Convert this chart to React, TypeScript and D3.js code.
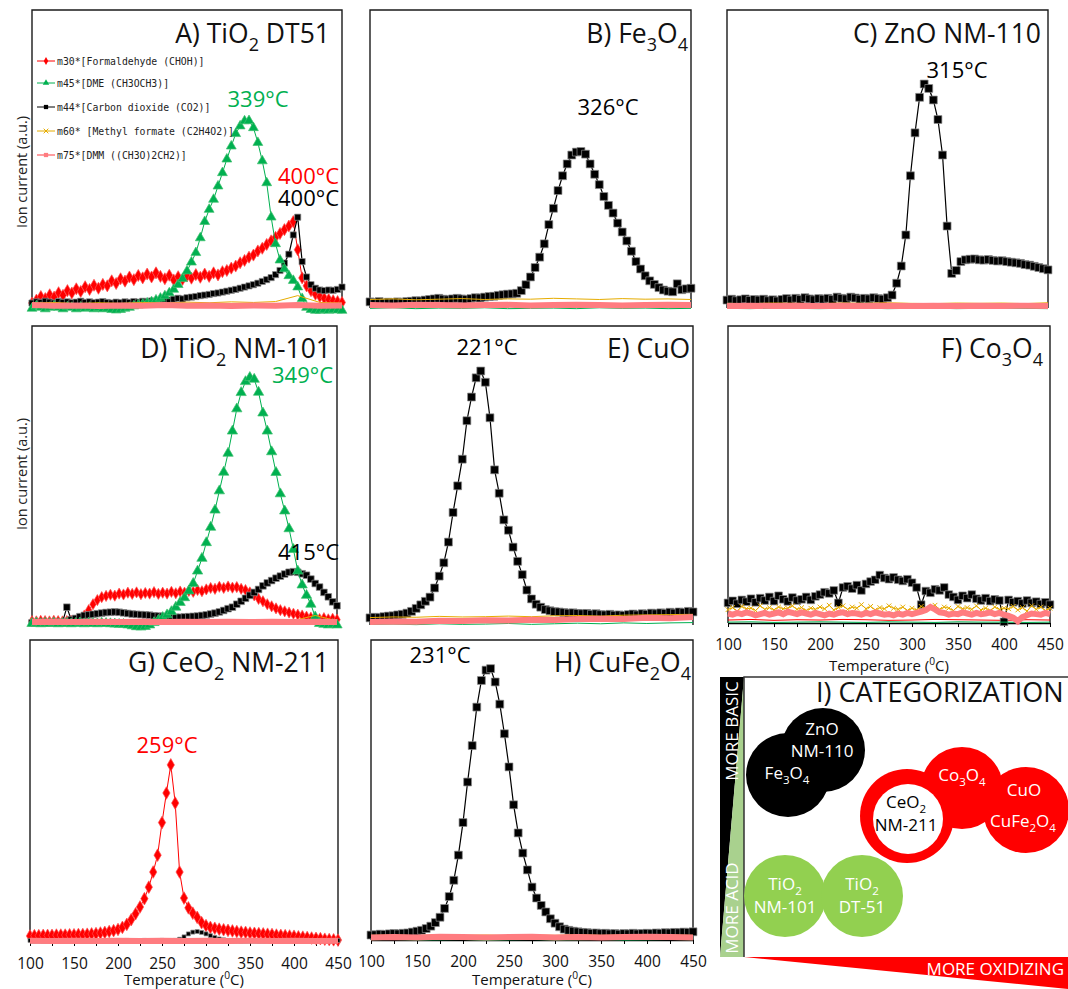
import * as React from 'react';
import * as d3 from 'd3';

/** ******** Data ********* */
// temperature grid of the MS traces (°C)
const TEMPS = d3.range(100, 451, 5);
const TEMPS_COARSE = d3.range(100, 451, 25);
const X_TICKS = d3.range(100, 451, 25);

// A) TiO2 DT51
const A_M30 = [
    1.0, 2.0, 3.2, 2.5, 3.8, 3.0, 4.5, 3.6, 5.2, 4.4,
    5.8, 4.9, 6.5, 5.6, 7.0, 6.0, 7.3, 6.8, 8.5, 7.6,
    9.2, 8.4, 9.8, 8.9, 10.3, 9.5, 10.8, 9.8, 11.2, 10.0,
    9.2, 10.4, 8.8, 9.9, 9.0, 10.2, 9.4, 10.6, 9.7, 10.8,
    10.0, 11.2, 10.5, 11.6, 12.0, 12.8, 13.5, 14.6, 15.4, 16.5,
    17.2, 18.6, 19.5, 20.8, 22.0, 23.2, 24.5, 25.8, 27.0, 28.5,
    19.0, 9.5, 6.8, 5.2, 4.0, 3.2, 2.6, 2.2, 1.8, 1.5,
    1.2
];
const A_M45 = [
    -0.8, 0, -0.5, -1.0, -0.5, 0, -0.5, -1.0, -0.3, -0.5,
    -1.0, -0.4, -0.8, -0.5, -1.0, -0.6, -1.0, -0.8, -1.2, -1.4,
    -1.2, -0.8, -0.5, 0, 0.3, 0.6, 1.0, 1.4, 2.0, 2.6,
    3.4, 4.4, 5.6, 7.2, 9.2, 11.8, 14.8, 18.0, 23.0, 28.5,
    32.6, 36.0, 40.5, 45.0, 49.6, 54.0, 58.2, 60.8, 62.5, 62.6,
    60.2, 55.2, 49.0, 41.6, 30.0, 21.0, 15.5, 12.5, 10.2, 8.6,
    6.4, 2.5, -0.5, -1.2, -1.5, -1.5, -1.2, -1.5, -1.2, -1.4,
    -1.5
];
const A_M44 = [
    1.0, 1.4, 1.2, 1.6, 1.3, 1.0, 1.5, 1.2, 1.4, 1.1,
    1.3, 1.6, 1.2, 1.4, 1.1, 1.3, 1.5, 1.2, 1.0, 1.3,
    1.1, 1.4, 1.2, 1.5, 1.3, 1.6, 1.4, 1.7, 1.5, 1.9,
    1.7, 2.0, 2.3, 2.6, 2.4, 2.8, 3.0, 3.2, 3.5, 3.7,
    3.9, 4.2, 4.4, 4.7, 5.0, 5.3, 5.6, 6.0, 6.4, 6.8,
    7.2, 7.7, 8.3, 8.9, 9.6, 10.6, 12.0, 14.5, 17.5, 24.0,
    30.0, 15.0, 9.8, 7.2, 6.0, 5.4, 5.2, 5.4, 5.3, 5.6,
    6.4
];
const A_M60 = [1.0, 1.2, 0.8, 1.1, 0.9, 1.2, 1.0, 1.3, 1.1, 1.4, 1.2, 1.5, 3.5, 1.2, 1.0];
const A_M75 = [0.3, 0.1, 0.2, 0.0, 0.2, 0.1, 0.3, 0.1, 0.2, 0.0, 0.2, 0.1, 0.3, 0.1, 0.2];

// B) Fe3O4
const B_M44 = [
    1.4, 1.2, 1.5, 1.0, 1.3, 1.1, 1.4, 1.2, 1.5, 1.6,
    1.8, 1.7, 2.0, 2.2, 2.4, 2.6, 2.3, 2.1, 2.4, 2.6,
    2.4, 2.2, 2.5, 2.8, 2.7, 3.0, 3.2, 3.3, 3.6, 3.8,
    4.0, 4.1, 4.3, 5.2, 7.2, 9.8, 13.0, 16.5, 21.0, 27.5,
    33.0, 39.0, 44.0, 48.0, 51.0, 52.0, 52.2, 51.3, 48.0, 44.5,
    41.0, 37.0, 34.0, 31.4, 28.0, 25.0, 22.0, 18.5, 15.0, 12.5,
    10.2, 8.5, 7.3, 6.2, 5.4, 5.0, 4.8, 7.5, 5.5, 5.8,
    6.0
];
const B_M30 = [0.2, 0.3, 0.1, 0.2, 0.3, 0.2, 0.1, 0.3, 0.2, 0.2, 0.3, 0.1, 0.2, 0.3, 0.2];
const B_M45 = [-0.8, -0.6, -0.9, -0.7, -0.8, -0.6, -0.9, -0.8, -0.7, -0.9, -0.6, -0.8, -0.7, -0.9, -0.8];
const B_M60 = [2.2, 2.4, 2.1, 2.3, 2.5, 2.2, 2.4, 2.3, 2.6, 2.4, 2.2, 2.5, 2.3, 2.4, 2.2];
const B_M75 = [0.3, 0.2, 0.4, 0.3, 0.2, 0.3, 0.4, 0.2, 0.3, 0.4, 0.3, 0.2, 0.3, 0.4, 0.3];

// C) ZnO NM-110
const C_M44 = [
    2.0, 2.3, 1.8, 2.1, 2.4, 1.9, 2.2, 2.0, 2.3, 1.8,
    2.1, 1.7, 2.2, 2.5, 2.0, 2.6, 2.2, 2.8, 2.4, 2.1,
    2.5, 2.3, 2.6, 2.2, 3.0, 2.6, 2.4, 3.0, 2.7, 2.3,
    2.6, 2.4, 2.8, 2.5, 2.3, 2.8, 3.7, 7.7, 13.5, 24.0,
    44.0, 58.5, 70.5, 75.0, 73.5, 69.6, 63.0, 51.0, 27.0, 11.0,
    12.0, 15.0, 15.6, 15.8, 15.9, 15.6, 15.5, 15.7, 15.4, 15.2,
    15.3, 15.0, 14.8, 14.6, 14.4, 14.0, 13.8, 13.4, 13.0, 12.6,
    12.2
];
const C_M30 = [0.2, 0.1, 0.3, 0.2, 0.1, 0.2, 0.3, 0.1, 0.2, 0.2, 0.1, 0.3, 0.2, 0.1, 0.2];
const C_M45 = [-0.8, -0.9, -0.7, -0.8, -0.9, -0.8, -0.7, -0.9, -0.8, -0.7, -0.9, -0.8, -0.7, -0.8, -0.9];
const C_M60 = [0.9, 0.8, 1.0, 0.9, 0.8, 1.0, 0.9, 1.1, 0.9, 0.8, 1.0, 0.9, 1.0, 0.8, 1.1];
const C_M75 = [0.0, 0.1, 0.0, 0.1, 0.0, 0.1, 0.0, 0.1, 0.0, 0.1, 0.0, 0.1, 0.0, 0.1, 0.0];

// D) TiO2 NM-101
const D_M30 = [
    0.3, 0.2, 0.4, 0.3, 0.2, 0.4, 0.3, 0.2, 0.3, 0.4,
    0.5, 1.0, 2.2, 4.0, 6.0, 7.4, 8.4, 8.8, 9.2, 8.9,
    9.6, 9.3, 9.9, 9.5, 10.0, 9.4, 9.8, 9.6, 10.1, 9.5,
    9.9, 9.6, 10.2, 9.7, 10.3, 9.9, 10.5, 10.2, 10.8, 10.4,
    11.0, 11.5, 11.2, 11.9, 11.5, 12.0, 11.6, 11.8, 11.2, 10.8,
    10.0, 9.0, 7.8, 7.0, 6.0, 5.3, 4.6, 4.0, 3.6, 3.2,
    2.8, 2.5, 2.2, 1.8, 1.5, 1.2, 1.0, 1.3, 0.9, 1.1,
    0.8
];
const D_M45 = [
    -0.5, -0.3, -0.6, -0.4, -0.5, -0.3, -0.6, -0.5, -0.4, -0.6,
    -0.5, -0.3, -0.6, -0.4, -0.5, -0.6, -0.4, -0.5, -0.6, -0.7,
    -0.8, -0.8, -1.0, -1.3, -1.6, -1.7, -1.5, -1.0, -0.2, 0.6,
    1.5, 2.4, 3.5, 5.0, 6.6, 8.2, 10.5, 13.0, 17.2, 21.5,
    26.8, 32.0, 37.8, 44.3, 50.6, 57.0, 64.5, 72.0, 77.5, 81.2,
    82.6, 82.0, 77.6, 70.6, 64.5, 57.5, 50.5, 43.3, 37.5, 31.5,
    24.5, 17.2, 12.5, 9.0, 6.0, 1.7, -0.5, -0.8, -1.0, -0.8,
    -1.0
];
const D_M44 = [
    -0.3, -0.3, -0.2, -0.4, -0.3, -0.2, -0.3, -0.1, 5.0, 0.8,
    1.2, 1.8, 2.2, 2.4, 2.6, 2.8, 3.0, 3.2, 3.3, 3.4,
    3.3, 3.1, 2.9, 2.7, 2.6, 2.5, 2.4, 2.3, 2.1, 2.0,
    1.9, 1.8, 1.7, 1.6, 1.6, 1.7, 1.8, 1.9, 2.0, 2.2,
    2.4, 2.7, 3.0, 3.4, 3.9, 4.5, 5.0, 6.0, 7.0, 8.0,
    9.0, 10.0, 11.0, 12.2, 13.2, 14.0, 14.8, 15.5, 16.2, 16.8,
    17.0, 16.8, 16.3, 15.8, 14.5, 13.0, 11.8, 10.0, 8.5, 6.8,
    5.5
];
const D_M60 = [0.4, 0.5, 0.3, 0.4, 0.6, 0.4, 0.5, 0.3, 0.4, 0.5, 0.4, 0.6, 0.5, 2.2, 0.4];
const D_M75 = [0.0, 0.1, 0.0, 0.1, 0.0, 0.1, 0.0, 0.1, 0.0, 0.1, 0.0, 0.1, 0.0, 0.1, 0.0];

// E) CuO
const E_M44 = [
    1.4, 1.6, 1.5, 1.8, 2.0, 2.1, 2.4, 2.6, 3.0, 3.6,
    4.6, 5.8, 7.0, 8.4, 11.5, 15.5, 20.0, 27.0, 37.0, 46.0,
    55.0, 68.0, 76.0, 82.5, 84.8, 81.0, 69.0, 51.4, 43.5, 34.5,
    31.0, 25.3, 20.5, 16.0, 10.8, 7.8, 6.0, 5.0, 4.2, 3.8,
    3.5, 3.4, 3.2, 3.0, 3.1, 2.9, 2.8, 2.9, 2.6, 2.8,
    2.5, 2.4, 2.6, 2.3, 2.4, 2.2, 2.5, 2.7, 2.4, 2.8,
    2.6, 3.0, 2.8, 3.1, 2.9, 3.3, 3.0, 3.4, 3.2, 3.6,
    3.4
];
const E_M30 = [0.3, 0.4, 0.3, 0.5, 0.4, 0.5, 0.6, 0.5, 0.7, 0.8, 0.7, 0.9, 1.0, 1.1, 1.2];
const E_M45 = [-0.8, -0.7, -0.9, -0.6, -0.8, -0.7, -0.5, -0.8, -0.6, -0.4, -0.6, -0.3, -0.5, -0.3, -0.2];
const E_M60 = [1.5, 1.7, 1.6, 1.9, 1.7, 1.8, 2.0, 1.8, 2.1, 2.2, 2.0, 2.3, 2.4, 2.5, 2.6];
const E_M75 = [0.0, 0.2, 0.1, 0.4, 0.3, 0.6, 0.5, 0.8, 0.7, 1.0, 1.1, 1.0, 1.4, 1.3, 1.7];

// F) Co3O4
const F_M44 = [
    6.8, 7.5, 6.5, 7.8, 7.2, 8.2, 7.0, 8.4, 7.6, 8.8,
    7.4, 9.2, 8.0, 7.3, 8.6, 7.6, 8.0, 8.8, 7.8, 9.0,
    9.6, 10.4, 10.0, 11.0, 6.8, 12.0, 12.4, 11.6, 12.8, 11.0,
    13.2, 14.0, 14.6, 16.2, 15.2, 14.8, 15.4, 14.6, 14.2, 14.8,
    13.6, 12.0, 6.2, 10.8, 10.2, 11.4, 11.0, 12.0, 9.6, 8.8,
    7.8, 9.2, 8.4, 9.6, 8.2, 7.6, 8.4, 7.4, 8.0, 7.6,
    0.4, 7.8, 7.0, 7.4, 6.6, 7.6, 6.8, 7.2, 6.4, 7.0,
    6.2
];
const F_M60 = [
    4.5, 5.2, 4.0, 5.6, 4.8, 5.0, 4.2, 5.8, 4.6, 5.2,
    4.4, 5.4, 4.8, 5.0, 5.8, 4.6, 5.2, 4.2, 5.0, 4.6,
    5.4, 4.8, 6.0, 4.4, 5.2, 5.8, 4.6, 5.4, 5.0, 6.2,
    4.8, 5.6, 4.4, 5.2, 4.8, 5.8, 5.0, 4.6, 5.4, 4.2,
    5.0, 4.4, 5.6, 4.8, 5.2, 6.0, 4.6, 5.4, 5.0, 4.2,
    5.6, 4.8, 5.2, 4.6, 5.8, 4.4, 5.0, 4.2, 5.4, 4.6,
    5.0, 4.8, 5.6, 4.4, 5.2, 4.0, 5.8, 4.6, 5.4, 4.2,
    5.0
];
const F_M75 = [
    3.2, 2.8, 3.4, 3.0, 3.6, 3.2, 2.6, 3.0, 3.4, 2.8,
    3.2, 3.6, 3.0, 3.8, 3.4, 3.0, 3.6, 3.2, 2.8, 3.4,
    3.0, 2.6, 3.2, 2.8, 3.4, 3.6, 3.0, 3.4, 3.2, 2.8,
    3.4, 3.0, 3.6, 3.2, 2.8, 3.0, 2.6, 3.2, 2.8, 3.4,
    3.0, 3.4, 3.8, 4.4, 5.4, 4.6, 3.6, 3.4, 2.8, 3.2,
    3.0, 3.6, 3.2, 2.8, 3.4, 3.0, 3.2, 3.6, 3.0, 3.4,
    2.8, 2.4, 1.8, 0.6, 2.0, 2.6, 3.2, 3.0, 2.8, 3.4,
    3.0
];
const F_M30 = [1.0, 1.2, 0.9, 1.1, 1.0, 1.2, 1.1, 0.9, 1.0, 1.2, 1.1, 1.0, 0.9, 1.1, 1.0];
const F_M45 = [0.3, 0.4, 0.2, 0.3, 0.4, 0.3, 0.2, 0.4, 0.3, 0.2, 0.4, 0.3, 0.3, 0.2, 0.3];

// G) CeO2 NM-211
const G_M30 = [
    1.7, 1.8, 1.8, 1.9, 1.9, 1.9, 2.0, 2.0, 2.0, 2.1,
    2.1, 2.2, 2.2, 2.3, 2.4, 2.5, 2.7, 2.9, 3.2, 3.5,
    3.9, 4.6, 5.6, 7.2, 9.2, 11.5, 14.3, 18.2, 23.3, 29.0,
    40.0, 50.0, 59.5, 46.6, 23.3, 14.5, 11.2, 9.4, 8.0, 6.2,
    5.2, 4.6, 4.3, 4.0, 3.8, 3.6, 3.4, 3.2, 3.0, 2.9,
    2.7, 2.6, 2.5, 2.4, 2.3, 2.2, 2.0, 1.9, 1.8, 1.7,
    1.6, 1.4, 1.3, 1.2, 1.0, 0.9, 0.8, 0.6, 0.5, 0.4,
    0.3
];
const G_M44 = [
    0.2, 0.1, 0.2, 0.0, 0.1, 0.2, 0.1, 0.0, 0.2, 0.1,
    0.1, 0.2, 0.0, 0.1, 0.2, 0.1, 0.0, 0.1, 0.2, 0.1,
    0.0, 0.1, 0.2, 0.1, 0.0, 0.1, 0.2, 0.1, 0.0, 0.1,
    0.2, 0.1, 0.0, 0.2, 0.6, 1.4, 2.4, 3.0, 3.2, 2.9,
    2.4, 1.8, 1.2, 0.7, 0.4, 0.2, 0.1, 0.2, 0.0, 0.1,
    0.2, 0.1, 0.0, 0.1, 0.2, 0.1, 0.0, 0.1, 0.2, 0.1,
    0.0, 0.1, 0.2, 0.1, 0.0, 0.1, 0.2, 0.1, 0.0, 0.1,
    0.2
];
const G_M45 = [-0.3, -0.2, -0.4, -0.3, -0.2, -0.3, -0.4, -0.3, -0.2, -0.3, -0.4, -0.3, -0.2, -0.3, -0.3];
const G_M60 = [0.3, 0.4, 0.3, 0.2, 0.4, 0.3, 0.3, 0.4, 0.2, 0.3, 0.4, 0.3, 0.2, 0.3, 0.4];
const G_M75 = [0.1, 0.0, 0.1, 0.0, 0.1, 0.0, 0.1, 0.0, 0.1, 0.0, 0.1, 0.0, 0.1, 0.0, 0.1];

// H) CuFe2O4
const H_M44 = [
    1.0, 1.1, 1.3, 1.2, 1.4, 1.5, 1.4, 1.6, 1.7, 2.0,
    2.3, 2.6, 3.2, 4.0, 5.2, 7.0, 10.0, 14.0, 19.5, 28.0,
    39.0, 52.7, 65.0, 78.0, 87.0, 90.5, 91.0, 86.5, 79.0, 69.0,
    57.8, 45.0, 35.5, 28.7, 23.0, 17.2, 13.5, 11.0, 8.8, 6.5,
    5.0, 3.8, 3.0, 2.6, 2.3, 2.1, 1.9, 1.8, 1.6, 1.7,
    1.5, 1.6, 1.4, 1.5, 1.3, 1.5, 1.4, 1.6, 1.4, 1.5,
    1.6, 1.5, 1.7, 1.6, 1.8, 1.7, 1.9, 1.8, 2.0, 1.9,
    2.1
];
const H_M30 = [0.3, 0.2, 0.3, 0.2, 0.3, 0.2, 0.3, 0.2, 0.3, 0.2, 0.3, 0.2, 0.3, 0.2, 0.3];
const H_M45 = [-0.6, -0.5, -0.7, -0.6, -0.5, -0.8, -0.6, -0.5, -0.7, -0.6, -0.5, -0.7, -0.6, -0.5, -0.6];
const H_M60 = [0.9, 1.0, 0.8, 1.1, 0.9, 1.0, 0.8, 1.0, 0.9, 1.1, 0.9, 1.0, 0.8, 1.0, 0.9];
const H_M75 = [0.2, 0.3, 0.2, 0.4, 0.3, 0.2, 0.3, 0.4, 0.2, 0.3, 0.2, 0.3, 0.4, 0.3, 0.2];

const LEGEND = [
    { key: 'm30', label: 'm30*[Formaldehyde (CHOH)]' },
    { key: 'm45', label: 'm45*[DME (CH3OCH3)]' },
    { key: 'm44', label: 'm44*[Carbon dioxide (CO2)]' },
    { key: 'm60', label: 'm60* [Methyl formate (C2H4O2)]' },
    { key: 'm75', label: 'm75*[DMM ((CH3O)2CH2)]' }
];

/** ******** Styles ********* */
const FONT = "'Open Sans', 'Noto Sans', sans-serif";
const SYMBOL_X = (d3 as any).symbolTimes || (d3 as any).symbolX || d3.symbolCross;

const SERIES_STYLE: Record<string, { color: string; edge: string; symbol: any; width: number; stroked?: boolean }> = {
    m30: { color: '#ff0000', edge: '#ff5050', symbol: d3.symbolDiamond, width: 1 },
    m45: { color: '#00b050', edge: '#40c070', symbol: d3.symbolTriangle, width: 1 },
    m44: { color: '#000000', edge: '#8c8c8c', symbol: d3.symbolSquare, width: 1.2 },
    m60: { color: '#e6ac00', edge: '#e6ac00', symbol: SYMBOL_X, width: 1, stroked: true },
    m75: { color: '#ff7c80', edge: '#ff7c80', symbol: null, width: 6 }
};

interface Trace {
    key: string;
    temps: number[];
    values: number[];
    marker?: number;
}

interface Peak {
    text: string;
    x: number;
    y: number;
    anchor: string;
    color: string;
}

interface Panel {
    title: string;
    titleX: number;
    titleY: number;
    x0: number;
    x1: number;
    top: number;
    base: number;
    bottom: number;
    axisY?: number;
    axisLabelDy?: number;
    yLabelY?: number;
    traces: Trace[];
    peaks: Peak[];
}

const GREEN = '#00b050';
const RED = '#ff0000';

const fine = (key: string, values: number[], marker?: number): Trace => ({ key, temps: TEMPS, values, marker });
const flat = (key: string, values: number[]): Trace => ({ key, temps: TEMPS_COARSE, values });

const PANELS: Panel[] = [
    {
        title: 'A) TiO_2 DT51', titleX: 330, titleY: 43,
        x0: 32, x1: 342, top: 10, base: 306, bottom: 308, yLabelY: 172,
        traces: [fine('m30', A_M30, 42), fine('m44', A_M44, 38), fine('m45', A_M45, 42), flat('m60', A_M60), flat('m75', A_M75)],
        peaks: [
            { text: '339°C', x: 258, y: 107, anchor: 'middle', color: GREEN },
            { text: '400°C', x: 339, y: 184, anchor: 'end', color: RED },
            { text: '400°C', x: 339, y: 206, anchor: 'end', color: '#000' }
        ]
    },
    {
        title: 'B) Fe_3O_4', titleX: 688, titleY: 43,
        x0: 370, x1: 691, top: 10, base: 306, bottom: 308,
        traces: [flat('m30', B_M30), fine('m44', B_M44, 62), flat('m45', B_M45), flat('m60', B_M60), flat('m75', B_M75)],
        peaks: [{ text: '326°C', x: 608, y: 115, anchor: 'middle', color: '#000' }]
    },
    {
        title: 'C) ZnO NM-110', titleX: 1041, titleY: 43,
        x0: 727, x1: 1048, top: 10, base: 306, bottom: 308,
        traces: [flat('m30', C_M30), fine('m44', C_M44, 62), flat('m45', C_M45), flat('m60', C_M60), flat('m75', C_M75)],
        peaks: [{ text: '315°C', x: 957, y: 78, anchor: 'middle', color: '#000' }]
    },
    {
        title: 'D) TiO_2 NM-101', titleX: 331, titleY: 358,
        x0: 32, x1: 337, top: 326, base: 622, bottom: 625, yLabelY: 474,
        traces: [fine('m30', D_M30, 36), fine('m44', D_M44, 44), fine('m45', D_M45, 46), flat('m60', D_M60), flat('m75', D_M75)],
        peaks: [
            { text: '349°C', x: 333, y: 383, anchor: 'end', color: GREEN },
            { text: '415°C', x: 339, y: 560, anchor: 'end', color: '#000' }
        ]
    },
    {
        title: 'E) CuO', titleX: 690, titleY: 358,
        x0: 370, x1: 693, top: 326, base: 622, bottom: 625,
        traces: [flat('m30', E_M30), fine('m44', E_M44, 62), flat('m45', E_M45), flat('m60', E_M60), flat('m75', E_M75)],
        peaks: [{ text: '221°C', x: 487, y: 355, anchor: 'middle', color: '#000' }]
    },
    {
        title: 'F) Co_3O_4', titleX: 1043, titleY: 358,
        x0: 728, x1: 1050, top: 326, base: 623, bottom: 623, axisY: 623, axisLabelDy: 48,
        traces: [flat('m30', F_M30), fine('m44', F_M44, 58), flat('m45', F_M45), fine('m60', F_M60, 16), fine('m75', F_M75)],
        peaks: []
    },
    {
        title: 'G) CeO_2 NM-211', titleX: 329, titleY: 672,
        x0: 30, x1: 338, top: 640, base: 941, bottom: 942, axisY: 942, axisLabelDy: 43,
        traces: [fine('m30', G_M30, 46), fine('m44', G_M44, 16), flat('m45', G_M45), flat('m60', G_M60), flat('m75', G_M75)],
        peaks: [{ text: '259°C', x: 167, y: 753, anchor: 'middle', color: RED }]
    },
    {
        title: 'H) CuFe_2O_4', titleX: 691, titleY: 672,
        x0: 371, x1: 693, top: 640, base: 938, bottom: 940, axisY: 940, axisLabelDy: 45,
        traces: [flat('m30', H_M30), fine('m44', H_M44, 62), flat('m45', H_M45), flat('m60', H_M60), flat('m75', H_M75)],
        peaks: [{ text: '231°C', x: 440, y: 663, anchor: 'middle', color: '#000' }]
    }
];

// I) categorization bubbles
const CAT_BLACK = [
    { cx: 823, cy: 750, r: 42 },
    { cx: 788, cy: 775, r: 42 }
];
const CAT_RED = [
    { cx: 962, cy: 788, r: 41 },
    { cx: 1026, cy: 810, r: 43 },
    { cx: 907, cy: 816, r: 47 }
];
const CAT_GREEN = [
    { cx: 785, cy: 896, r: 41 },
    { cx: 862, cy: 896, r: 41 }
];
const CAT_LABELS = [
    { text: 'ZnO', x: 822, y: 735, color: '#fff' },
    { text: 'NM-110', x: 822, y: 757, color: '#fff' },
    { text: 'Fe_3O_4', x: 787, y: 779, color: '#fff' },
    { text: 'CeO_2', x: 906, y: 808, color: '#000' },
    { text: 'NM-211', x: 906, y: 831, color: '#000' },
    { text: 'Co_3O_4', x: 962, y: 781, color: '#fff' },
    { text: 'CuO', x: 1024, y: 796, color: '#fff' },
    { text: 'CuFe_2O_4', x: 1023, y: 827, color: '#fff' },
    { text: 'TiO_2', x: 785, y: 890, color: '#fff' },
    { text: 'NM-101', x: 785, y: 913, color: '#fff' },
    { text: 'TiO_2', x: 862, y: 890, color: '#fff' },
    { text: 'DT-51', x: 862, y: 913, color: '#fff' }
];

/** ******** Helpers ********* */
// "_2" -> subscript 2, "^0" -> superscript 0
const richText = (sel: any, str: string, size: number) => {
    const parts = str.split(/([_^].)/).filter((s) => s !== '');
    let shift = 0;
    parts.forEach((p) => {
        let target = 0;
        let txt = p;
        let small = false;
        if ((p[0] === '_' || p[0] === '^') && p.length === 2) {
            target = p[0] === '_' ? 0.3 : -0.42;
            txt = p[1];
            small = true;
        }
        sel.append('tspan')
            .attr('dy', (target - shift) * size)
            .attr('font-size', small ? size * 0.68 : size)
            .text(txt);
        shift = target;
    });
};

const addText = (g: any, str: string, x: number, y: number, size: number, anchor: string, color: string, rotate = 0) => {
    const t = g.append('text')
        .attr('x', x)
        .attr('y', y)
        .attr('text-anchor', anchor)
        .attr('fill', color)
        .attr('font-family', FONT)
        .attr('font-size', size)
        .style('white-space', 'pre');
    if (rotate) t.attr('transform', `rotate(${rotate},${x},${y})`);
    richText(t, str, size);
    return t;
};

const App: React.FC = () => {
    const svgRef = React.useRef<SVGSVGElement>(null);

    const render = () => {
        const svg = d3.select(svgRef.current);
        svg.selectAll('*').remove();
        svg.append('rect').attr('width', 1068).attr('height', 989).attr('fill', '#fff');

        /** ******** Panels A-H ********* */
        PANELS.forEach((p) => {
            const xScale = d3.scaleLinear().domain([100, 450]).range([p.x0, p.x1]);
            const yScale = d3.scaleLinear().domain([0, 100]).range([p.base, p.base - 296]);
            const g = svg.append('g');

            // frame
            g.append('path')
                .attr('d', `M${p.x0},${p.bottom}V${p.top}H${p.x1}V${p.bottom}`)
                .attr('fill', 'none')
                .attr('stroke', '#1a1a1a')
                .attr('stroke-width', 1.4);

            // axis
            if (p.axisY !== undefined) {
                const xAxis = d3
                    .axisBottom(xScale)
                    .tickValues(X_TICKS)
                    .tickSize(4)
                    .tickSizeOuter(0)
                    .tickPadding(12)
                    .tickFormat((d) => (+d % 50 === 0 ? String(d) : ''));
                const ag = g.append('g').attr('transform', `translate(0,${p.axisY})`).call(xAxis);
                ag.select('.domain').attr('stroke', '#000').attr('stroke-width', 1.4);
                ag.selectAll('.tick line').attr('stroke', '#000');
                ag.selectAll('.tick text')
                    .attr('font-family', FONT)
                    .attr('font-size', 15.5)
                    .attr('fill', '#111');
                addText(g, 'Temperature (^0C)', (p.x0 + p.x1) / 2, p.axisY + (p.axisLabelDy || 44), 15, 'middle', '#111');
            }

            // traces
            p.traces.forEach((t) => {
                const st = SERIES_STYLE[t.key];
                const pts = t.temps.map((T, i) => [T, t.values[i]] as [number, number]);
                const line = d3
                    .line<[number, number]>()
                    .x((d) => xScale(d[0]))
                    .y((d) => yScale(d[1]));
                g.append('path')
                    .datum(pts)
                    .attr('d', line)
                    .attr('fill', 'none')
                    .attr('stroke', st.color)
                    .attr('stroke-width', st.width);
                if (t.marker && st.symbol) {
                    const sym = d3.symbol().type(st.symbol).size(t.marker);
                    g.append('g')
                        .selectAll('path')
                        .data(pts)
                        .enter()
                        .append('path')
                        .attr('transform', (d) => `translate(${xScale(d[0])},${yScale(d[1])})`)
                        .attr('d', sym)
                        .attr('fill', st.stroked ? 'none' : st.color)
                        .attr('stroke', st.edge)
                        .attr('stroke-width', st.stroked ? 1 : 0.7);
                }
            });

            // titles & peak labels
            addText(g, p.title, p.titleX, p.titleY, 26.5, 'end', '#111');
            p.peaks.forEach((pk) => addText(g, pk.text, pk.x, pk.y, 22, pk.anchor, pk.color));
            if (p.yLabelY !== undefined) {
                addText(g, 'Ion current (a.u.)', 27, p.yLabelY, 14.5, 'middle', '#222', -90);
            }
        });

        /** ******** Legend (panel A) ********* */
        const LEGEND_Y = [61, 83, 107, 131, 155];
        const lg = svg.append('g');
        LEGEND.forEach((item, i) => {
            const st = SERIES_STYLE[item.key];
            const y = LEGEND_Y[i];
            lg.append('line')
                .attr('x1', 37)
                .attr('x2', 55)
                .attr('y1', y)
                .attr('y2', y)
                .attr('stroke', st.color)
                .attr('stroke-width', item.key === 'm75' ? 1.5 : 1);
            const sym = d3.symbol().type(st.symbol || d3.symbolSquare).size(item.key === 'm60' ? 16 : 18);
            lg.append('path')
                .attr('transform', `translate(46,${y})`)
                .attr('d', sym)
                .attr('fill', st.stroked ? 'none' : st.color)
                .attr('stroke', st.color)
                .attr('stroke-width', st.stroked ? 1 : 0);
            lg.append('text')
                .attr('x', 57)
                .attr('y', y + 3.5)
                .attr('font-family', "'DejaVu Sans Mono', monospace")
                .attr('font-size', 9.8)
                .attr('fill', '#222')
                .text(item.label);
        });

        /** ******** I) Categorization ********* */
        const ig = svg.append('g');
        // acid/basic bar
        ig.append('path').attr('d', 'M720,677L744,677L720,957Z').attr('fill', '#000');
        ig.append('path').attr('d', 'M744,677L744,957L720,957Z').attr('fill', '#a9d18e');
        addText(ig, 'MORE BASIC', 738, 731, 17, 'middle', '#fff', -90);
        addText(ig, 'MORE ACID', 738, 908, 17, 'middle', '#fff', -90);
        // oxidizing wedge
        ig.append('path').attr('d', 'M744,957L1068,957L1068,989Z').attr('fill', '#ff0000');
        addText(ig, 'MORE OXIDIZING', 1064, 975, 17, 'end', '#fff');
        // frame
        ig.append('path')
            .attr('d', 'M744,957V677H1068')
            .attr('fill', 'none')
            .attr('stroke', '#333')
            .attr('stroke-width', 1.5);
        addText(ig, 'I) CATEGORIZATION', 816, 702, 27, 'start', '#111');

        // bubbles
        CAT_BLACK.forEach((c) => ig.append('circle').attr('cx', c.cx).attr('cy', c.cy).attr('r', c.r).attr('fill', '#000'));
        CAT_RED.forEach((c) => ig.append('circle').attr('cx', c.cx).attr('cy', c.cy).attr('r', c.r).attr('fill', '#ff0000'));
        ig.append('circle').attr('cx', 908).attr('cy', 819).attr('r', 35).attr('fill', '#fff');
        CAT_GREEN.forEach((c) => ig.append('circle').attr('cx', c.cx).attr('cy', c.cy).attr('r', c.r).attr('fill', '#92d050'));
        CAT_LABELS.forEach((l) => addText(ig, l.text, l.x, l.y, 17, 'middle', l.color));
    };

    React.useEffect(render);

    return (
        <svg
            ref={svgRef}
            width={1068}
            height={989}
            style={{ position: 'absolute', left: 0, top: 0, display: 'block' }}
        />
    );
};

export default App;
